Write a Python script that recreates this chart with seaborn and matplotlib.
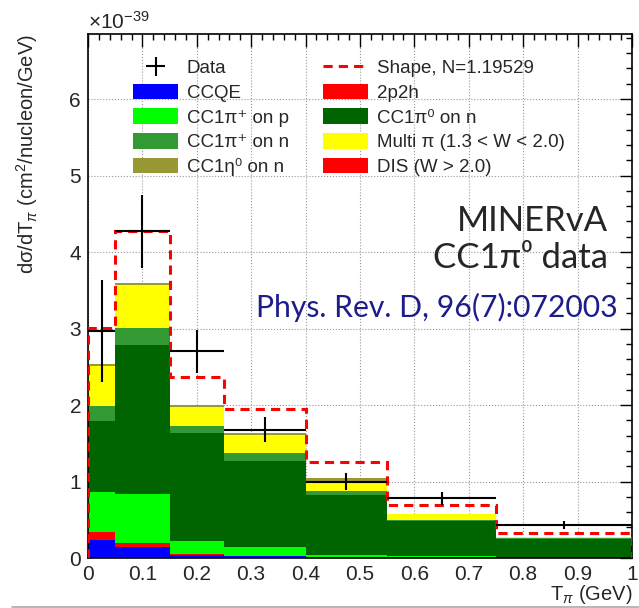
import numpy as np
import pandas as pd
import matplotlib
matplotlib.use('Agg')
import matplotlib.pyplot as plt
import seaborn as sns
from matplotlib.lines import Line2D
from matplotlib.patches import Patch
from matplotlib.ticker import MultipleLocator, FuncFormatter

# T_pi bin edges (GeV) and cross sections in units of 1e-39 cm^2/nucleon/GeV
edges = [0.0, 0.05, 0.15, 0.25, 0.40, 0.55, 0.75, 1.0]

data_vals = [2.97, 4.27, 2.70, 1.68, 1.00, 0.78, 0.43]
data_errs = [0.67, 0.48, 0.28, 0.16, 0.11, 0.085, 0.055]

shape_vals = [3.01, 4.27, 2.36, 1.95, 1.26, 0.69, 0.33]

ccqe     = [0.235, 0.14, 0.04, 0.02, 0.01, 0.01, 0.01]
twop2h   = [0.105, 0.06, 0.01, 0.00, 0.00, 0.00, 0.00]
pip_p    = [0.52, 0.64, 0.17, 0.12, 0.03, 0.01, 0.00]
pi0_n    = [0.93, 1.94, 1.42, 1.13, 0.78, 0.46, 0.24]
pip_n    = [0.20, 0.23, 0.08, 0.10, 0.06, 0.02, 0.01]
multi_pi = [0.52, 0.56, 0.26, 0.24, 0.11, 0.07, 0.02]
eta_n    = [0.02, 0.02, 0.02, 0.02, 0.05, 0.01, 0.00]
dis      = [0.00, 0.00, 0.00, 0.00, 0.00, 0.00, 0.00]

labels = {
    'CCQE': 'CCQE',
    '2p2h': '2p2h',
    'pip_p': 'CC1π⁺ on p',
    'pi0_n': 'CC1π⁰ on n',
    'pip_n': 'CC1π⁺ on n',
    'multi': 'Multi π (1.3 < W < 2.0)',
    'eta': 'CC1η⁰ on n',
    'dis': 'DIS (W > 2.0)',
}
colors = {
    'CCQE': '#0000ff',
    '2p2h': '#ff0000',
    'pip_p': '#00ff00',
    'pi0_n': '#006400',
    'pip_n': '#339933',
    'multi': '#ffff00',
    'eta': '#999933',
    'dis': '#ff0000',
}
components = {
    'CCQE': ccqe, '2p2h': twop2h, 'pip_p': pip_p, 'pi0_n': pi0_n,
    'pip_n': pip_n, 'multi': multi_pi, 'eta': eta_n, 'dis': dis,
}

centers = [(a + b) / 2 for a, b in zip(edges[:-1], edges[1:])]
halfw = [(b - a) / 2 for a, b in zip(edges[:-1], edges[1:])]

rows = []
for key, vals in components.items():
    for c, v in zip(centers, vals):
        rows.append({'T': c, 'w': v, 'comp': key})
df = pd.DataFrame(rows)

sns.set_theme(style='white')
plt.rcParams['font.family'] = ['Liberation Sans', 'DejaVu Sans']
plt.rcParams['mathtext.fontset'] = 'custom'
plt.rcParams['mathtext.rm'] = 'Liberation Sans'
plt.rcParams['mathtext.it'] = 'Liberation Sans:italic'
plt.rcParams['mathtext.bf'] = 'Liberation Sans:bold'

fig = plt.figure(figsize=(6.39, 6.08), dpi=100)
ax = fig.add_axes([0.1377, 0.0822, 0.8513, 0.8618])

# seaborn stacks the last hue level at the bottom
stack_order = ['dis', 'eta', 'multi', 'pip_n', 'pi0_n', 'pip_p', '2p2h', 'CCQE']
sns.histplot(data=df, x='T', weights='w', hue='comp', hue_order=stack_order,
             multiple='stack', bins=edges, palette=colors, alpha=1,
             linewidth=0, legend=False, ax=ax)

ax.stairs(shape_vals, edges, baseline=0, color='#ff0000',
          linestyle=(0, (3, 2)), linewidth=2.2, zorder=4)
eb = ax.errorbar(centers, data_vals, xerr=halfw, yerr=data_errs, fmt='none',
                 ecolor='black', elinewidth=1.5, capsize=0, zorder=5)

ax.set_xlim(0, 1)
ax.set_ylim(0, 6.85)
ax.xaxis.set_major_locator(MultipleLocator(0.1))
ax.xaxis.set_minor_locator(MultipleLocator(0.02))
ax.yaxis.set_major_locator(MultipleLocator(1))
ax.yaxis.set_minor_locator(MultipleLocator(0.2))
ax.xaxis.set_major_formatter(FuncFormatter(lambda v, _: f'{round(v, 2):g}'))
ax.tick_params(which='both', direction='in', top=True, right=True,
               labelsize=15, color='black', pad=5)
ax.tick_params(which='major', length=9, width=1)
ax.tick_params(which='minor', length=4.5, width=1)
for s in ax.spines.values():
    s.set_color('black')
    s.set_linewidth(1.2)
ax.grid(True, which='major', linestyle=':', color='#999999', linewidth=0.8)
ax.set_axisbelow(True)

ax.set_xlabel('T$_{\\pi}$ (GeV)', fontsize=14.5, loc='right')
ax.xaxis.set_label_coords(1.0, -0.047)
ax.set_ylabel('dσ/dT$_{\\pi}$ (cm$^{2}$/nucleon/GeV)', fontsize=14.5, loc='top')
ax.yaxis.set_label_coords(-0.088, 1.0)
ax.text(0.0, 1.003, '×10$^{-39}$', transform=ax.transAxes, ha='left',
        va='bottom', fontsize=15)

ax.text(0.956, 4.41, 'MINERvA', ha='right', va='center', fontsize=25,
        family=['Lato', 'DejaVu Sans'])
ax.text(0.956, 3.92, 'CC1π⁰ data', ha='right', va='center', fontsize=25,
        family=['Lato', 'DejaVu Sans'])
ax.text(0.974, 3.28, 'Phys. Rev. D, 96(7):072003', ha='right', va='center',
        fontsize=21.7, color='#1c1c8c', family=['Lato', 'DejaVu Sans'])

shape_h = Line2D([], [], color='#ff0000', linestyle=(0, (3, 2)), linewidth=2.2)
def box(k):
    return Patch(facecolor=colors[k], edgecolor='none')

handles = [eb, box('CCQE'), box('pip_p'), box('pip_n'), box('eta'),
           shape_h, box('2p2h'), box('pi0_n'), box('multi'), box('dis')]
texts = ['Data', labels['CCQE'], labels['pip_p'], labels['pip_n'], labels['eta'],
         'Shape, N=1.19529', labels['2p2h'], labels['pi0_n'], labels['multi'],
         labels['dis']]
ax.legend(handles, texts, ncol=2, loc='upper left',
          bbox_to_anchor=(0.083, 0.952), frameon=False, fontsize=13.5,
          borderpad=0, borderaxespad=0, handlelength=2.4, handleheight=0.9,
          handletextpad=0.45, labelspacing=0.34, columnspacing=1.85)

fig.add_artist(Line2D([0.018, 1.0], [0.002, 0.002], color='#aaaaaa',
                      linewidth=1.2, transform=fig.transFigure))

fig.savefig('out.png', dpi=100)
